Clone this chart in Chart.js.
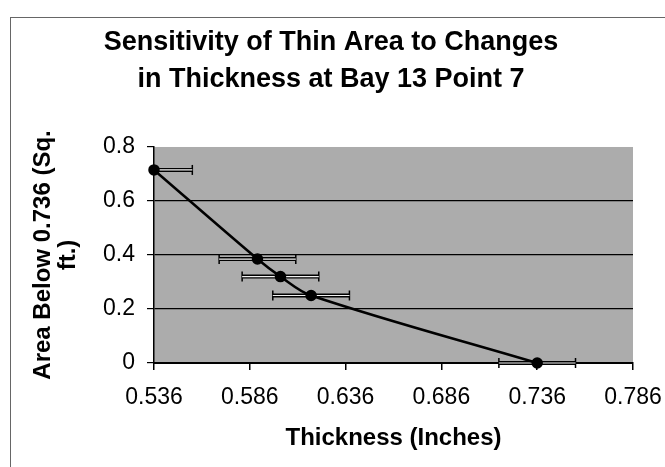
<!DOCTYPE html>
<html>
<head>
<meta charset="utf-8">
<script src="https://cdn.jsdelivr.net/npm/chart.js@4.4.1/dist/chart.umd.min.js"></script>
<style>
  body { margin: 0; background: #fff; }
  #frame { position: absolute; left: 10px; top: 17px; width: 700px; height: 500px; border: 1px solid #666; }
  #wrap { position: absolute; left: 0; top: 0; width: 665px; height: 467px; }
</style>
</head>
<body>
<div id="frame"></div>
<div id="wrap"><canvas id="sensChart" width="665" height="467"></canvas></div>
<script>
// values
const thickness = [0.536, 0.590, 0.602, 0.618, 0.736];
const areaBelow = [0.715, 0.385, 0.32, 0.25, 0];
const thickErr = [0.02, 0.02, 0.02, 0.02, 0.02];
const xTicks = [0.536, 0.586, 0.636, 0.686, 0.736, 0.786];
const yTicks = [0, 0.2, 0.4, 0.6, 0.8];

const mainPts = thickness.map((x, i) => ({ x: x, y: areaBelow[i] }));

// horizontal error bars, one segment per point, split by gaps
const errPts = [];
thickness.forEach((x, i) => {
    errPts.push({ x: x - thickErr[i], y: areaBelow[i] });
    errPts.push({ x: x + thickErr[i], y: areaBelow[i] });
    errPts.push({ x: x + thickErr[i], y: null });
});

const plotBg = {
    id: "plotBg",
    beforeDraw(chart) {
        const a = chart.chartArea;
        const c = chart.ctx;
        c.save();
        c.fillStyle = "#acacac";
        c.fillRect(a.left, a.top, a.right - a.left, a.bottom - a.top);
        c.restore();
    }
};

const ctx = document.getElementById("sensChart");

new Chart(ctx, {
    type: "scatter",
    data: {
        datasets: [{
            data: mainPts,
            showLine: true,
            borderColor: "#000",
            borderWidth: 2.5,
            tension: 0.35,
            pointRadius: 4.5,
            pointBackgroundColor: "#000",
            pointBorderColor: "#000",
            clip: false,
            order: 0
        }, {
            data: errPts,
            showLine: true,
            borderColor: "#f2f2f2",
            borderWidth: 1.2,
            pointRadius: 0,
            clip: { left: 0, top: 8, right: 8, bottom: 10 },
            order: 1
        }, {
            data: errPts,
            showLine: true,
            borderColor: "#000",
            borderWidth: 4,
            pointStyle: "line",
            rotation: 90,
            pointRadius: 5,
            pointBorderWidth: 1.5,
            pointBorderColor: "#000",
            clip: { left: 0, top: 8, right: 8, bottom: 10 },
            order: 2
        }]
    },
    options: {
        responsive: false,
        animation: false,
        layout: {
            padding: { left: 29, right: 32, top: 0, bottom: 8.6 }
        },
        plugins: {
            legend: { display: false },
            tooltip: { enabled: false },
            title: {
                display: true,
                text: ["Sensitivity of Thin Area to Changes", "in Thickness at Bay 13 Point 7"],
                color: "#000",
                font: { family: "Liberation Sans", size: 27, weight: "bold", lineHeight: 1.37 },
                padding: { top: 24.5, bottom: 48.5 }
            }
        },
        scales: {
            x: {
                type: "linear",
                min: 0.536,
                max: 0.786,
                afterBuildTicks: (s) => { s.ticks = xTicks.map(v => ({ value: v })); },
                afterFit: (s) => { s.height = 95.4; s.paddingLeft = 0; s.paddingRight = 0; },
                ticks: {
                    color: "#000",
                    font: { family: "Liberation Sans", size: 23 },
                    padding: 14,
                    maxRotation: 0,
                    autoSkip: false,
                    callback: (v) => Number(v).toFixed(3)
                },
                grid: {
                    drawOnChartArea: false,
                    color: "#000",
                    tickColor: "#000",
                    tickLength: 7,
                    lineWidth: 1.5
                },
                border: { color: "#000", width: 2 },
                title: {
                    display: true,
                    text: "Thickness (Inches)",
                    color: "#000",
                    font: { family: "Liberation Sans", size: 24, weight: "bold", lineHeight: 1.2 },
                    padding: { top: 0, bottom: 6 }
                }
            },
            y: {
                min: 0,
                max: 0.8,
                afterBuildTicks: (s) => { s.ticks = yTicks.map(v => ({ value: v })); },
                afterFit: (s) => { s.width = 125; s.paddingTop = 0; s.paddingBottom = 0; },
                ticks: {
                    color: "#000",
                    font: { family: "Liberation Sans", size: 23 },
                    padding: 12,
                    callback: (v) => String(Number(v.toFixed(1)))
                },
                grid: {
                    color: (c) => (c.tick && (c.tick.value === 0 || c.tick.value === 0.8)) ? "rgba(0,0,0,0)" : "#000",
                    tickColor: "#000",
                    tickLength: 7,
                    lineWidth: 1.2
                },
                border: { color: "#000", width: 1.5 },
                title: {
                    display: true,
                    text: ["Area Below 0.736 (Sq.", "ft.)"],
                    color: "#000",
                    font: { family: "Liberation Sans", size: 24, weight: "bold", lineHeight: 1.05 },
                    padding: { top: 2, bottom: 0 }
                }
            }
        }
    },
    plugins: [plotBg]
});
</script>
</body>
</html>
